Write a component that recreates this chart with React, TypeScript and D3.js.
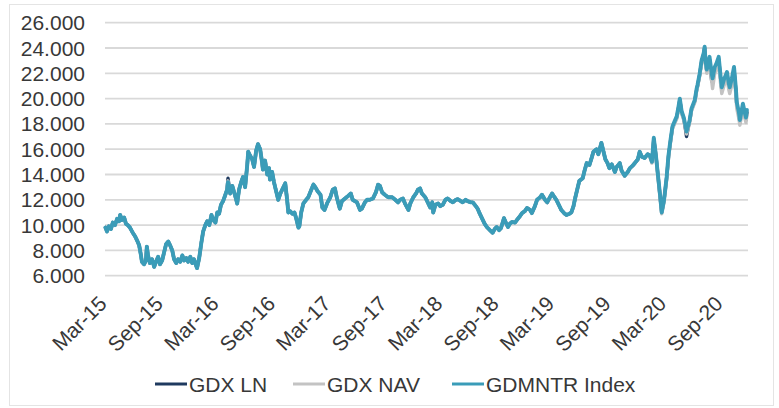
import React from "react";
import * as d3 from "d3";

// ---- data ----
const tickDates = ["2015-03-01","2015-09-01","2016-03-01","2016-09-01","2017-03-01","2017-09-01","2018-03-01","2018-09-01","2019-03-01","2019-09-01","2020-03-01","2020-09-01"];
const yTicks = [6, 8, 10, 12, 14, 16, 18, 20, 22, 24, 26];
const seriesNames = ["GDX LN", "GDX NAV", "GDMNTR Index"];
const seriesColors = ["#1f3a5f", "#c3c3c3", "#3a9cb8"];

const dates = [
  // 2015
  "2015-02-24","2015-03-01","2015-03-07","2015-03-14","2015-03-20","2015-03-27","2015-04-03","2015-04-09","2015-04-13","2015-04-19","2015-04-26","2015-05-02","2015-05-08","2015-05-15","2015-05-24","2015-06-01","2015-06-07","2015-06-14","2015-06-20","2015-06-23","2015-06-30","2015-07-06","2015-07-09","2015-07-13","2015-07-19","2015-07-26","2015-08-02","2015-08-08","2015-08-15","2015-08-21","2015-08-28","2015-09-04","2015-09-10","2015-09-17","2015-09-23","2015-09-30","2015-10-06","2015-10-13","2015-10-19","2015-10-26","2015-11-02","2015-11-08","2015-11-15","2015-11-21","2015-11-28","2015-12-04","2015-12-10","2015-12-17","2015-12-20","2015-12-27",
  // 2016
  "2016-01-03","2016-01-09","2016-01-16","2016-01-22","2016-01-29","2016-02-05","2016-02-11","2016-02-18","2016-02-24","2016-03-01","2016-03-07","2016-03-14","2016-03-20","2016-03-27","2016-03-30","2016-04-06","2016-04-13","2016-04-19","2016-04-26","2016-04-29","2016-05-05","2016-05-12","2016-05-18","2016-05-25","2016-06-01","2016-06-04","2016-06-10","2016-06-17","2016-06-23","2016-06-30","2016-07-06","2016-07-13","2016-07-19","2016-07-22","2016-07-29","2016-08-05","2016-08-11","2016-08-14","2016-08-21","2016-08-27","2016-09-04","2016-09-10","2016-09-17","2016-09-23","2016-10-03","2016-10-09","2016-10-13","2016-10-19","2016-10-26","2016-11-02","2016-11-08","2016-11-15","2016-11-18","2016-11-24","2016-12-01","2016-12-07","2016-12-17","2016-12-27",
  // 2017
  "2017-01-03","2017-01-09","2017-01-16","2017-01-26","2017-02-01","2017-02-08","2017-02-18","2017-02-27","2017-03-07","2017-03-14","2017-03-20","2017-03-30","2017-04-06","2017-04-16","2017-04-26","2017-05-05","2017-05-11","2017-05-25","2017-06-04","2017-06-10","2017-06-20","2017-06-27","2017-07-06","2017-07-16","2017-07-26","2017-08-02","2017-08-08","2017-08-15","2017-08-24","2017-09-04","2017-09-17","2017-09-27","2017-10-06","2017-10-13","2017-10-22","2017-10-29","2017-11-09","2017-11-15","2017-11-25","2017-12-04","2017-12-10","2017-12-17","2017-12-23",
  // 2018
  "2018-01-03","2018-01-13","2018-01-19","2018-01-26","2018-01-29","2018-02-05","2018-02-14","2018-02-21","2018-03-01","2018-03-10","2018-03-17","2018-03-27","2018-04-03","2018-04-13","2018-04-19","2018-04-29","2018-05-05","2018-05-15","2018-05-21","2018-06-01","2018-06-07","2018-06-17","2018-06-23","2018-06-30","2018-07-10","2018-07-16","2018-07-23","2018-08-02","2018-08-11","2018-08-18","2018-08-24","2018-09-01","2018-09-07","2018-09-14","2018-09-17","2018-09-23","2018-09-30","2018-10-06","2018-10-13","2018-10-23","2018-10-29","2018-11-08","2018-11-15","2018-11-24","2018-12-01","2018-12-11","2018-12-17","2018-12-27",
  // 2019
  "2019-01-03","2019-01-13","2019-01-19","2019-01-29","2019-02-05","2019-02-14","2019-02-21","2019-03-01","2019-03-07","2019-03-17","2019-03-23","2019-04-03","2019-04-09","2019-04-19","2019-04-25","2019-05-02","2019-05-08","2019-05-15","2019-05-21","2019-06-01","2019-06-07","2019-06-14","2019-06-23","2019-06-30","2019-07-06","2019-07-16","2019-07-22","2019-08-01","2019-08-08","2019-08-14","2019-08-21","2019-08-27","2019-09-04","2019-09-14","2019-09-20","2019-09-30","2019-10-06","2019-10-16","2019-10-26","2019-11-02","2019-11-11","2019-11-18","2019-11-28","2019-12-04","2019-12-11","2019-12-20","2019-12-30",
  // 2020
  "2020-01-06","2020-01-13","2020-01-19","2020-01-26","2020-02-01","2020-02-08","2020-02-14","2020-02-21","2020-02-24","2020-03-01","2020-03-07","2020-03-14","2020-03-20","2020-03-27","2020-04-03","2020-04-09","2020-04-13","2020-04-19","2020-04-26","2020-05-02","2020-05-05","2020-05-12","2020-05-15","2020-05-21","2020-06-01","2020-06-07","2020-06-10","2020-06-17","2020-06-23","2020-06-30","2020-07-03","2020-07-06","2020-07-10","2020-07-16","2020-07-19","2020-07-26","2020-07-29","2020-08-05","2020-08-11","2020-08-18","2020-08-24","2020-08-28","2020-09-04","2020-09-14","2020-09-20","2020-09-23","2020-09-30","2020-10-07","2020-10-13","2020-10-16","2020-10-23","2020-10-26","2020-11-02","2020-11-05","2020-11-12","2020-11-15","2020-11-18",
];

const gdmntrIndex = [
  // 2015
  9.8, 9.5, 9.9, 9.7, 10.2, 10.0, 10.5, 10.3, 10.8, 10.4, 10.6, 10.1, 10.0, 9.8, 9.4, 9.1, 8.8, 8.4, 7.6, 7.1, 6.9, 7.2, 8.3, 7.6, 7.0, 7.3, 6.7, 7.1, 7.5, 6.9, 7.2, 7.9, 8.5, 8.7, 8.4, 8.0, 7.3, 7.0, 7.3, 7.1, 7.6, 7.2, 7.4, 7.1, 7.5, 7.0, 7.3, 6.8, 6.6, 7.4,
  // 2016
  8.6, 9.5, 10.0, 10.3, 10.0, 10.8, 10.4, 10.2, 11.0, 10.9, 11.6, 11.9, 12.3, 12.8, 13.4, 12.5, 13.1, 12.6, 12.0, 11.7, 12.8, 13.4, 13.8, 13.0, 14.8, 15.8, 15.5, 15.2, 14.6, 15.9, 16.4, 16.0, 15.0, 14.4, 15.1, 14.0, 14.5, 13.6, 14.2, 13.4, 12.6, 12.0, 12.5, 12.8, 13.3, 12.0, 11.0, 11.1, 10.9, 11.0, 10.5, 9.8, 9.9, 11.0, 11.7, 11.9, 12.2, 12.8,
  // 2017
  13.2, 13.0, 12.7, 12.4, 11.4, 11.2, 11.8, 12.2, 12.8, 12.9, 12.2, 11.3, 11.9, 12.1, 12.3, 12.5, 12.0, 11.8, 11.2, 11.3, 11.8, 12.0, 12.0, 12.1, 12.6, 13.2, 13.1, 12.6, 12.4, 12.2, 12.2, 12.0, 11.8, 12.0, 12.1, 11.7, 11.2, 11.7, 12.2, 12.5, 12.8, 12.9, 12.5,
  // 2018
  12.2, 11.7, 11.4, 11.8, 11.0, 11.6, 11.7, 11.5, 11.6, 12.0, 12.1, 11.9, 11.8, 12.0, 12.05, 11.9, 11.8, 12.0, 11.9, 11.8, 11.8, 11.5, 11.3, 10.9, 10.4, 10.1, 9.85, 9.6, 9.4, 9.7, 9.85, 9.6, 9.75, 10.3, 10.55, 10.2, 9.85, 10.1, 10.25, 10.2, 10.4, 10.7, 10.95, 11.1, 11.35, 11.2, 10.95, 11.5,
  // 2019
  12.0, 12.2, 12.4, 12.0, 11.8, 12.2, 12.5, 12.2, 12.0, 11.5, 11.2, 10.9, 10.8, 10.9, 11.0, 11.5, 12.2, 12.9, 13.5, 13.7, 14.3, 14.9, 14.75, 15.3, 15.8, 16.0, 15.6, 16.5, 15.8, 15.2, 14.9, 14.5, 14.8, 14.2, 14.6, 14.9, 14.3, 13.9, 14.2, 14.5, 14.7, 14.9, 15.2, 15.8, 15.4, 15.3, 15.6,
  // 2020
  15.5, 15.0, 16.9, 15.5, 14.1, 12.5, 11.0, 11.9, 12.5, 13.8, 15.5, 16.8, 17.8, 18.2, 18.6, 19.4, 20.0, 19.0, 18.5, 17.8, 17.4, 18.0, 18.3, 19.2, 19.9, 20.8, 21.1, 22.0, 23.0, 23.6, 24.1, 23.0, 22.3, 23.0, 23.3, 22.0, 21.6, 22.5, 22.8, 23.3, 21.8, 20.9, 21.5, 22.1, 21.2, 20.9, 21.6, 22.5, 20.8, 19.7, 18.9, 18.3, 19.2, 19.6, 18.8, 18.5, 19.1,
];

const gdxNav = [
  // 2015
  9.8, 9.5, 9.9, 9.7, 10.2, 10.0, 10.5, 10.3, 10.8, 10.4, 10.6, 10.1, 10.0, 9.8, 9.4, 9.1, 8.8, 8.4, 7.6, 7.1, 6.9, 7.2, 8.3, 7.6, 7.0, 7.3, 6.7, 7.1, 7.5, 6.9, 7.2, 7.9, 8.5, 8.7, 8.4, 8.0, 7.3, 7.0, 7.3, 7.1, 7.6, 7.2, 7.4, 7.1, 7.5, 7.0, 7.3, 6.8, 6.6, 7.4,
  // 2016
  8.6, 9.5, 10.0, 10.3, 10.0, 10.8, 10.4, 10.2, 11.0, 10.9, 11.6, 11.9, 12.3, 12.8, 13.5, 12.5, 13.1, 12.6, 12.0, 11.7, 12.8, 13.4, 13.8, 13.0, 14.8, 15.8, 15.5, 15.2, 14.6, 15.9, 16.4, 16.0, 15.0, 14.4, 15.1, 14.0, 14.5, 13.6, 14.2, 13.4, 12.6, 12.0, 12.5, 12.8, 13.3, 12.0, 11.0, 11.1, 10.9, 11.0, 10.5, 9.8, 9.9, 11.0, 11.7, 11.9, 12.2, 12.8,
  // 2017
  13.2, 13.0, 12.7, 12.4, 11.4, 11.2, 11.8, 12.2, 12.8, 12.9, 12.2, 11.3, 11.9, 12.1, 12.3, 12.5, 12.0, 11.8, 11.2, 11.3, 11.8, 12.0, 12.0, 12.1, 12.6, 13.2, 13.1, 12.6, 12.4, 12.2, 12.2, 12.0, 11.8, 12.0, 12.1, 11.7, 11.2, 11.7, 12.2, 12.5, 12.8, 12.9, 12.5,
  // 2018
  12.2, 11.7, 11.4, 11.8, 11.0, 11.6, 11.7, 11.5, 11.6, 12.0, 12.1, 11.9, 11.8, 12.0, 12.05, 11.9, 11.8, 12.0, 11.9, 11.8, 11.8, 11.5, 11.3, 10.9, 10.4, 10.1, 9.85, 9.6, 9.4, 9.7, 9.85, 9.6, 9.75, 10.3, 10.55, 10.2, 9.85, 10.1, 10.25, 10.2, 10.4, 10.7, 10.95, 11.1, 11.35, 11.2, 10.95, 11.5,
  // 2019
  12.0, 12.2, 12.4, 12.0, 11.8, 12.2, 12.5, 12.2, 12.0, 11.5, 11.2, 10.9, 10.8, 10.9, 11.0, 11.5, 12.2, 12.9, 13.5, 13.7, 14.3, 14.9, 14.75, 15.3, 15.8, 16.0, 15.6, 16.5, 15.8, 15.2, 14.9, 14.5, 14.8, 14.2, 14.6, 14.9, 14.3, 13.9, 14.2, 14.5, 14.7, 14.9, 15.2, 15.8, 15.4, 15.3, 15.6,
  // 2020
  15.4, 14.9, 16.7, 15.4, 14.0, 12.3, 10.9, 11.8, 12.4, 13.6, 15.3, 16.6, 17.6, 18.0, 18.4, 19.2, 19.8, 18.8, 18.3, 17.6, 17.2, 17.8, 18.1, 19.0, 19.7, 20.6, 20.9, 21.8, 22.7, 23.3, 23.8, 22.7, 22.0, 22.6, 22.9, 21.4, 20.8, 22.0, 22.3, 22.8, 21.2, 20.4, 21.0, 21.6, 20.7, 20.4, 21.1, 22.0, 20.3, 19.2, 18.4, 17.9, 18.8, 19.2, 18.4, 18.1, 18.7,
];

const gdxLn = [
  // 2015
  9.8, 9.5, 9.9, 9.7, 10.2, 10.0, 10.5, 10.3, 10.8, 10.4, 10.6, 10.1, 10.0, 9.8, 9.4, 9.1, 8.8, 8.4, 7.6, 7.1, 6.9, 7.2, 8.3, 7.6, 7.0, 7.3, 6.7, 7.1, 7.5, 6.9, 7.2, 7.9, 8.5, 8.7, 8.4, 8.0, 7.3, 7.0, 7.3, 7.1, 7.6, 7.2, 7.4, 7.1, 7.5, 7.0, 7.3, 6.8, 6.6, 7.4,
  // 2016
  8.6, 9.5, 10.0, 10.3, 10.0, 10.8, 10.4, 10.2, 11.0, 10.9, 11.6, 11.9, 12.3, 12.8, 13.7, 12.5, 13.1, 12.6, 12.0, 11.7, 12.8, 13.4, 13.8, 13.0, 14.8, 15.8, 15.5, 15.2, 14.6, 15.9, 16.4, 16.0, 15.0, 14.4, 15.1, 14.0, 14.5, 13.6, 14.2, 13.4, 12.6, 12.0, 12.5, 12.8, 13.3, 12.0, 11.0, 11.1, 10.9, 11.0, 10.5, 9.8, 9.9, 11.0, 11.7, 11.9, 12.2, 12.8,
  // 2017
  13.2, 13.0, 12.7, 12.4, 11.4, 11.2, 11.8, 12.2, 12.8, 12.9, 12.2, 11.3, 11.9, 12.1, 12.3, 12.5, 12.0, 11.8, 11.2, 11.3, 11.8, 12.0, 12.0, 12.1, 12.6, 13.2, 13.1, 12.6, 12.4, 12.2, 12.2, 12.0, 11.8, 12.0, 12.1, 11.7, 11.2, 11.7, 12.2, 12.5, 12.8, 12.9, 12.5,
  // 2018
  12.2, 11.7, 11.4, 11.8, 11.0, 11.6, 11.7, 11.5, 11.6, 12.0, 12.1, 11.9, 11.8, 12.0, 12.05, 11.9, 11.8, 12.0, 11.9, 11.8, 11.8, 11.5, 11.3, 10.9, 10.4, 10.1, 9.85, 9.6, 9.4, 9.7, 9.85, 9.6, 9.75, 10.3, 10.55, 10.2, 9.85, 10.1, 10.25, 10.2, 10.4, 10.7, 10.95, 11.1, 11.35, 11.2, 10.95, 11.5,
  // 2019
  12.0, 12.2, 12.4, 12.0, 11.8, 12.2, 12.5, 12.2, 12.0, 11.5, 11.2, 10.9, 10.8, 10.9, 11.0, 11.5, 12.2, 12.9, 13.5, 13.7, 14.3, 14.9, 14.75, 15.3, 15.8, 16.0, 15.6, 16.5, 15.8, 15.2, 14.9, 14.5, 14.8, 14.2, 14.6, 14.9, 14.3, 13.9, 14.2, 14.5, 14.7, 14.9, 15.2, 15.8, 15.4, 15.3, 15.6,
  // 2020
  15.5, 15.0, 16.8, 15.5, 14.1, 12.4, 11.0, 11.9, 12.5, 13.7, 15.4, 16.7, 17.7, 18.1, 18.5, 19.3, 19.9, 18.9, 18.4, 17.5, 17.0, 17.9, 18.2, 19.1, 19.8, 20.7, 21.0, 21.9, 22.9, 23.5, 24.0, 22.9, 22.2, 22.9, 23.1, 21.4, 21.3, 22.3, 22.6, 23.1, 21.6, 20.7, 21.3, 21.9, 21.0, 20.7, 21.4, 22.3, 20.6, 19.5, 18.7, 18.1, 19.0, 19.4, 18.6, 18.3, 18.9,
];

const parse = d3.timeParse("%Y-%m-%d");
const fmt = d3.timeFormat("%b-%y");

export default function App() {
  const W = 779, H = 408;
  const plotLeft = 105, plotRight = 748;
  const x = d3.scaleTime()
    .domain([parse("2015-03-01")!, parse("2020-09-01")!])
    .range([107, 723]);
  const y = d3.scaleLinear().domain([6, 26]).range([275.7, 22.7]);
  const xs = dates.map((d) => parse(d)!);
  const line = d3.line<number>()
    .x((_, i) => x(xs[i]))
    .y((v) => y(v));
  const series = [gdxLn, gdxNav, gdmntrIndex];
  const widths = [3.4, 3.4, 3.9];
  const font = "'Liberation Sans', Arial, sans-serif";
  const legendX = [155, 293, 452];

  return (
    <svg width={W} height={H} style={{ position: "absolute", left: 0, top: 0, background: "#fff" }}>
      <rect x={9.5} y={4.5} width={764} height={401} fill="#fff" stroke="#e4e4e4" strokeWidth={1} />
      {yTicks.map((t) => (
        <g key={t}>
          <line x1={plotLeft} x2={plotRight} y1={y(t)} y2={y(t)} stroke="#d9d9d9" strokeWidth={1.8} />
          <text x={85} y={y(t)} dy="0.36em" textAnchor="end" fontFamily={font} fontSize={21} fill="#383838">
            {d3.format(".3f")(t)}
          </text>
        </g>
      ))}
      {series.map((vals, k) => (
        <path key={k} d={line(vals) || ""} fill="none" stroke={seriesColors[k]} strokeWidth={widths[k]} strokeLinejoin="round" strokeLinecap="round" />
      ))}
      {tickDates.map((d) => {
        const dt = parse(d)!;
        return (
          <text key={d} transform={`translate(${x(dt) + 1},305) rotate(-45)`} textAnchor="end" fontFamily={font} fontSize={21} fill="#383838">
            {fmt(dt)}
          </text>
        );
      })}
      {seriesNames.map((n, k) => (
        <g key={n}>
          <line x1={legendX[k]} x2={legendX[k] + 32} y1={384} y2={384} stroke={seriesColors[k]} strokeWidth={3} />
          <text x={legendX[k] + 34} y={392} fontFamily={font} fontSize={21} fill="#383838">{n}</text>
        </g>
      ))}
    </svg>
  );
}
